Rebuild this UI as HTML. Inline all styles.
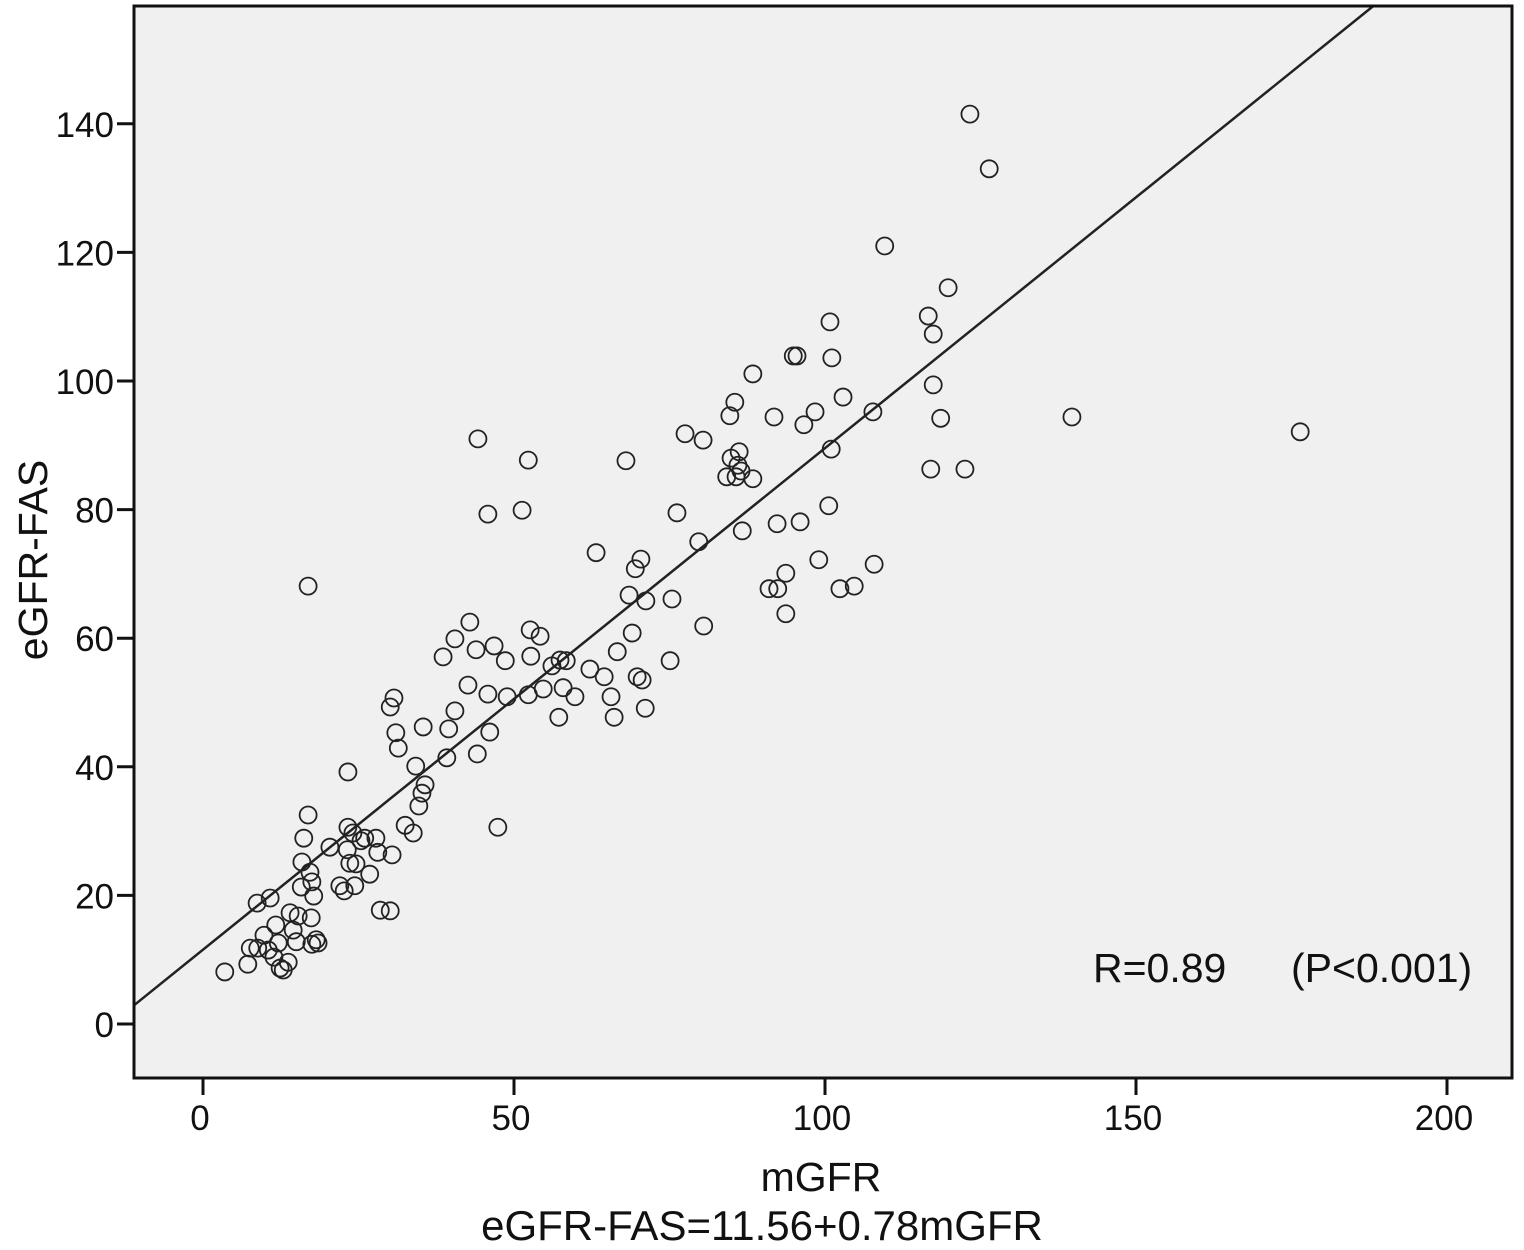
<!DOCTYPE html>
<html><head><meta charset="utf-8"><style>
html,body{margin:0;padding:0;background:#fff;}
svg{display:block;font-family:"Liberation Sans",Arial,sans-serif;}
</style></head><body>
<svg id="chart" width="1524" height="1250" viewBox="0 0 1524 1250" xmlns="http://www.w3.org/2000/svg">
<rect x="134" y="6" width="1378" height="1072" fill="#f0f0f0"/>
<g id="lineG"></g>
<g id="pts"></g>
<rect x="134" y="6" width="1378" height="1072" fill="none" stroke="#111" stroke-width="3"/>
<g id="axes"></g>
<text transform="translate(47,560) rotate(-90)" text-anchor="middle" font-size="41" fill="#111">eGFR-FAS</text>
<text x="821" y="1191" text-anchor="middle" font-size="41" fill="#111">mGFR</text>
<text x="762" y="1240" text-anchor="middle" font-size="42" fill="#111">eGFR-FAS=11.56+0.78mGFR</text>
<text x="1093" y="982" font-size="41" fill="#111">R=0.89</text>
<text x="1291" y="982" font-size="41" fill="#111">(P&lt;0.001)</text>
</svg>
<script>
const xTicks=[0,50,100,150,200];
const yTicks=[0,20,40,60,80,100,120,140];
const mgfr=[3.5,7.2,7.6,8.8,9.8,10.5,11.4,11.7,12.1,12.4,12.9,13.7,14.0,14.5,15.0,15.3,15.8,15.9,8.7,10.8,16.2,16.9,16.9,17.2,17.5,17.4,17.5,17.8,18.2,18.5,20.4,22.0,22.7,23.2,23.3,23.3,23.6,24.1,24.4,24.6,25.4,26.0,26.8,27.8,28.1,28.5,30.1,30.4,30.1,30.7,31.0,31.4,32.5,33.8,34.2,34.7,35.2,35.7,35.4,38.6,39.2,39.5,40.5,40.5,42.6,42.9,43.9,44.1,44.2,45.8,45.8,46.1,46.8,47.4,48.6,48.9,51.3,52.3,52.3,52.6,52.7,54.2,54.7,56.1,57.2,57.4,58.4,57.9,59.8,62.2,63.2,64.5,65.6,66.1,66.6,68.0,68.5,69.0,69.5,69.8,70.4,70.6,71.1,71.2,75.4,75.1,76.2,77.5,79.7,80.4,80.5,84.2,84.7,84.9,85.5,85.7,86.2,86.0,86.7,86.5,88.4,88.4,91.0,91.8,92.3,92.4,93.7,93.7,94.9,95.5,96.0,96.6,98.4,99.0,100.6,100.8,101.0,101.1,102.4,102.9,104.7,107.7,107.9,109.6,116.6,117.0,117.4,117.4,118.6,119.8,122.5,123.3,126.4,139.7,176.4];
const egfr=[8.1,9.3,11.8,11.8,13.8,11.5,10.4,15.4,12.6,8.7,8.4,9.6,17.3,14.6,12.8,16.8,21.3,25.2,18.8,19.6,28.9,32.5,68.1,23.6,22.1,16.5,12.4,19.9,13.1,12.6,27.5,21.5,20.7,27.1,39.2,30.6,25.0,29.7,21.5,24.9,28.5,28.9,23.3,28.9,26.7,17.7,17.6,26.3,49.3,50.7,45.3,42.9,30.9,29.7,40.1,33.9,35.9,37.2,46.2,57.1,41.4,45.9,48.7,59.9,52.7,62.5,58.2,42.0,91.0,79.3,51.3,45.4,58.8,30.6,56.5,50.9,79.9,87.7,51.2,61.3,57.2,60.3,52.1,55.7,47.7,56.6,56.5,52.3,50.9,55.2,73.3,54.0,50.9,47.7,57.9,87.6,66.7,60.8,70.8,54.0,72.3,53.5,49.1,65.8,66.1,56.5,79.5,91.8,75.0,90.8,61.9,85.1,94.6,88.0,96.7,85.1,89.0,86.9,76.7,86.0,101.1,84.8,67.7,94.4,77.8,67.7,70.1,63.8,103.9,103.9,78.1,93.2,95.2,72.2,80.6,109.2,89.4,103.6,67.7,97.5,68.1,95.2,71.5,121.0,110.1,86.3,107.3,99.4,94.2,114.5,86.3,141.5,133.0,94.4,92.1];
const intercept=[11.56];
const slope=[0.78];
const NS="http://www.w3.org/2000/svg";
const L=134,T=6,R=1512,B=1078;
function xs(v){return 203+6.22*v;}
function ys(v){return 1024-6.43*v;}
function xinv(p){return (p-203)/6.22;}
function mk(tag,attrs,parent){const e=document.createElementNS(NS,tag);for(const k in attrs)e.setAttribute(k,attrs[k]);parent.appendChild(e);return e;}
const axes=document.getElementById('axes');
xTicks.forEach(v=>{
  const t=mk('line',{x1:xs(v),x2:xs(v),y1:B,y2:B+17,stroke:'#111','stroke-width':3},axes);
  
  
  const l=mk('text',{x:xs(v)-3,y:1130,'text-anchor':'middle','font-size':35,fill:'#111'},axes);
  l.textContent=v;
  
  
});
yTicks.forEach(v=>{
  const t=mk('line',{x1:L-17,x2:L,y1:ys(v),y2:ys(v),stroke:'#111','stroke-width':3},axes);
  
  
  const l=mk('text',{x:114,y:ys(v)+13,'text-anchor':'end','font-size':35,fill:'#111'},axes);
  l.textContent=v;
  
  
});
const x0=xinv(L);
const topV=(1024-T)/6.43;
const xEnd=(topV-intercept[0])/slope[0];
const ln=mk('line',{x1:L,y1:ys(intercept[0]+slope[0]*x0),x2:xs(xEnd),y2:T,stroke:'#222','stroke-width':2.5},document.getElementById('lineG'));


const pts=document.getElementById('pts');
mgfr.forEach((v,i)=>{
  const c=mk('circle',{cx:xs(v),cy:ys(egfr[i]),r:8.5,fill:'none',stroke:'#222','stroke-width':1.8},pts);
  
  
});
</script>
</body></html>
